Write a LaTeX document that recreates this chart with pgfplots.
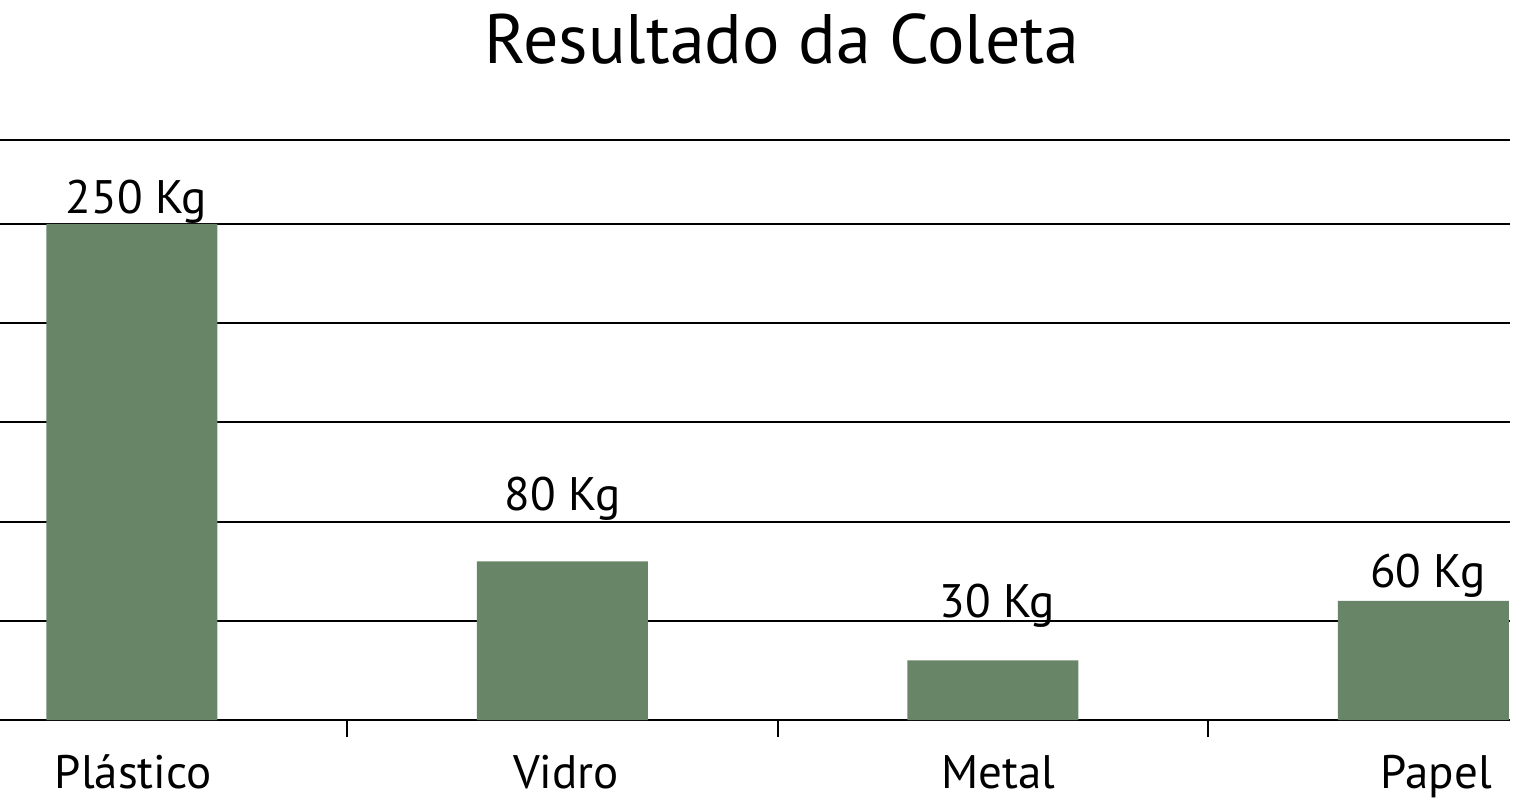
\documentclass[border=0pt]{standalone}
\usepackage{pgfplots}
\pgfplotsset{compat=1.18}
\usepackage{fontspec}
\setmainfont{PT Sans}
\definecolor{barg}{HTML}{688667}
\begin{document}
\begin{tikzpicture}
\path[use as bounding box] (0,-42bp) rectangle (756.5bp,360bp);
\begin{axis}[
  at={(0,0)}, anchor=south west,
  scale only axis, width=755bp, height=297.6bp,
  xmin=-0.3066, xmax=3.2010, ymin=0, ymax=300,
  clip=false,
  axis x line*=bottom, axis y line*=left,
  y axis line style={draw=none},
  x axis line style={line width=1bp, black, -},
  xtick={0.5,1.5,2.5}, xticklabels={},
  tick align=outside, major tick length=8.5bp,
  xtick style={line width=1bp, black},
  ytick={50,100,150,200,250}, yticklabels={},
  ytick style={draw=none},
  extra y ticks={292.3}, extra y tick labels={},
  ymajorgrids, major grid style={line width=1bp, black},
  extra y tick style={grid=major, major grid style={line width=1bp, black}},
  axis on top=false,
]
\addplot[ybar, bar width=85.5bp, fill=barg, draw=none] coordinates {(0,250) (1,80) (2,30) (3,60)};
\addplot[draw=none, mark=none,
  nodes near coords, point meta=explicit symbolic,
  every node near coord/.style={anchor=base, font=\fontsize{23.5bp}{26bp}\selectfont, inner sep=0pt}]
  coordinates {(0.01,255.5) [250 Kg] (1,105.8) [80 Kg] (2.01,51.9) [30 Kg] (3.01,67.0) [60 Kg]};
\addplot[draw=none, mark=none,
  nodes near coords, point meta=explicit symbolic,
  every node near coord/.style={anchor=base, font=\fontsize{23.5bp}{26bp}\selectfont, inner sep=0pt}]
  coordinates {(0.003,-34.3) [Plástico] (1.008,-34.3) [Vidro] (2.013,-34.3) [Metal] (3.03,-34.3) [Papel]};
\node[anchor=base, font=\fontsize{35bp}{40bp}\selectfont, inner sep=0pt] at (axis cs:1.51,331) {Resultado da Coleta};
\end{axis}
\end{tikzpicture}
\end{document}
